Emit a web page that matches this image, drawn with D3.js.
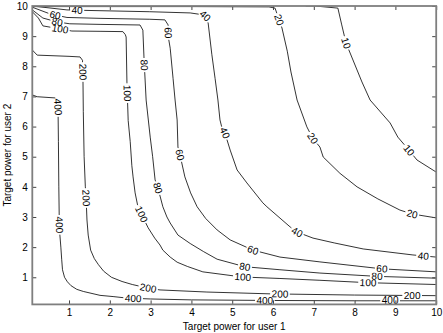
<!DOCTYPE html>
<html>
<head>
<meta charset="utf-8">
<script src="https://cdn.jsdelivr.net/npm/d3@7"></script>
<style>
  body { margin: 0; background: #fff; }
  text { font-family: "Liberation Sans", Arial, sans-serif; }
</style>
</head>
<body>
<div class="chart"></div>
<script>
// contour levels and their lines as [user1, user2] points
var levels = [10, 20, 40, 60, 80, 100, 200, 400];

var c400 = [[0.1,7.05],[0.22,6.99],[0.66,6.95],[0.71,6.9],[0.73,6.7],[0.74,5.5],[0.75,4.0],[0.76,3.0],[0.77,2.5],[0.80,2.0],[0.82,1.6],[0.84,1.25],[0.89,1.0],[0.96,0.85],[1.05,0.72],[1.19,0.60],[1.35,0.53],[1.76,0.40],[2.08,0.36],[2.42,0.31],[3.0,0.28],[4.0,0.25],[6.0,0.23],[8.0,0.22],[10,0.22]];
var c200 = [[0.1,8.54],[0.22,8.37],[1.0,8.33],[1.27,8.31],[1.33,8.2],[1.34,7.8],[1.35,6.5],[1.37,5.0],[1.40,4.0],[1.42,3.6],[1.44,2.9],[1.47,2.4],[1.53,1.9],[1.62,1.62],[1.72,1.42],[1.85,1.2],[2.04,1.0],[2.3,0.86],[2.55,0.76],[2.94,0.64],[3.23,0.58],[4.38,0.51],[5.93,0.45],[8.0,0.41],[10,0.39]];
var c100 = [[0.1,9.81],[0.25,9.6],[0.36,9.34],[0.78,9.24],[1.07,9.17],[1.76,9.16],[2.32,9.15],[2.38,9.05],[2.40,8.97],[2.42,7.45],[2.45,6.2],[2.50,5.5],[2.54,4.7],[2.57,4.33],[2.62,3.8],[2.68,3.4],[2.79,3.05],[2.94,2.64],[3.10,2.3],[3.23,2.07],[3.30,1.90],[3.48,1.67],[3.65,1.50],[3.9,1.36],[4.28,1.18],[5.24,1.01],[6.17,0.96],[7.15,0.90],[8.33,0.82],[10,0.76]];
var c80 = [[0.1,9.87],[0.36,9.60],[0.71,9.47],[1.02,9.41],[1.76,9.39],[2.74,9.37],[2.81,9.2],[2.84,8.21],[2.89,6.88],[2.99,5.65],[3.05,5.0],[3.11,4.23],[3.18,3.96],[3.30,3.34],[3.40,3.0],[3.48,2.8],[3.67,2.40],[3.97,2.12],[4.3,1.85],[4.63,1.60],[5.31,1.35],[6.17,1.25],[7.15,1.14],[8.55,1.03],[10,0.97]];
var c60 = [[0.1,9.96],[0.49,9.76],[0.66,9.70],[0.95,9.62],[1.76,9.59],[2.98,9.56],[3.35,9.54],[3.43,9.37],[3.43,9.0],[3.48,8.6],[3.55,7.6],[3.60,6.88],[3.65,6.22],[3.67,5.32],[3.72,5.06],[3.84,4.33],[3.98,3.8],[4.14,3.34],[4.35,2.95],[4.63,2.57],[4.95,2.24],[5.51,1.90],[6.17,1.67],[7.15,1.51],[8.67,1.28],[10,1.18]];
var c40 = [[0.1,10.0],[0.95,9.87],[1.2,9.86],[2.98,9.81],[3.97,9.77],[4.33,9.70],[4.41,9.44],[4.5,8.4],[4.58,7.6],[4.65,6.88],[4.70,6.22],[4.75,5.95],[4.82,5.79],[4.95,5.22],[5.12,4.56],[5.36,4.13],[5.75,3.47],[5.85,3.34],[6.42,2.67],[6.59,2.50],[6.98,2.30],[7.5,2.14],[8.21,1.94],[9.43,1.74],[10,1.67]];
var c20 = [[0.1,9.98],[4.0,9.98],[5.9,9.97],[6.05,9.93],[6.15,9.54],[6.22,9.27],[6.35,8.5],[6.44,7.81],[6.59,6.88],[6.83,5.99],[6.97,5.62],[7.15,5.32],[7.23,4.99],[7.64,4.45],[8.06,4.0],[8.57,3.6],[9.11,3.23],[9.41,3.10],[10,2.97]];
var c10 = [[6.8,10],[7.03,10],[7.59,9.93],[7.68,9.4],[7.79,8.77],[7.89,8.44],[8.18,7.48],[8.38,6.88],[8.87,6.12],[9.06,5.65],[9.28,5.3],[9.53,4.89],[10,4.49]];

// where the inline labels sit
var lab400 = [[0.71,6.65],[0.755,2.74],[2.57,0.25],[5.80,0.21],[8.87,0.18]];
var lab200 = [[1.34,7.81],[1.42,3.63],[2.94,0.64],[6.17,0.41],[9.41,0.38]];
var lab100 = [[0.78,9.24],[2.45,7.11],[2.79,3.10],[5.26,1.01],[8.33,0.81]];
var lab80 = [[0.71,9.47],[2.84,8.04],[3.18,3.96],[5.31,1.34],[8.55,1.01]];
var lab60 = [[0.66,9.70],[3.43,9.11],[3.72,5.06],[5.51,1.90],[8.67,1.28]];
var lab40 = [[1.2,9.87],[4.33,9.67],[4.82,5.79],[6.59,2.50],[9.68,1.67]];
var lab20 = [[6.15,9.54],[6.98,5.62],[9.41,3.10]];
var lab10 = [[7.79,8.77],[9.28,5.16]];

var contourLines = [c10, c20, c40, c60, c80, c100, c200, c400];
var contourLabels = [lab10, lab20, lab40, lab60, lab80, lab100, lab200, lab400];

var xTicks = [1, 2, 3, 4, 5, 6, 7, 8, 9, 10];
var yTicks = [1, 2, 3, 4, 5, 6, 7, 8, 9, 10];

var svgWidth = 443;
var svgHeight = 333;
var margin = {top: 6, right: 6.8, bottom: 28.6, left: 32.3};
var width = svgWidth - margin.left - margin.right;
var height = svgHeight - margin.top - margin.bottom;

var svg = d3.select(".chart")
  .append("svg")
  .attr("width", svgWidth)
  .attr("height", svgHeight)
  .style("display", "block");

var chartGroup = svg.append("g")
  .attr("transform", `translate(${margin.left}, ${margin.top})`);

var x = d3.scaleLinear().domain([0.1, 10]).range([0, width]);
var y = d3.scaleLinear().domain([0.1, 10]).range([height, 0]);

svg.append("defs").append("clipPath").attr("id", "plotclip")
  .append("rect").attr("width", width).attr("height", height);

var contourGroup = chartGroup.append("g").attr("clip-path", "url(#plotclip)");
var labelGroup = chartGroup.append("g");
var line = d3.line();

function drawContour(level, pts, labs) {
  var px = pts.map(d => [x(d[0]), y(d[1])]);
  var cum = [0];
  for (var i = 1; i < px.length; i++) {
    cum.push(cum[i - 1] + Math.hypot(px[i][0] - px[i - 1][0], px[i][1] - px[i - 1][1]));
  }
  var total = cum[cum.length - 1];

  function pointAt(s) {
    s = Math.max(0, Math.min(total, s));
    var k = 1;
    while (k < cum.length - 1 && cum[k] < s) k++;
    var seg = cum[k] - cum[k - 1];
    var t = seg ? (s - cum[k - 1]) / seg : 0;
    return [px[k - 1][0] + t * (px[k][0] - px[k - 1][0]), px[k - 1][1] + t * (px[k][1] - px[k - 1][1])];
  }

  var gaps = [];
  labs.forEach(function(l) {
    var lx = x(l[0]), ly = y(l[1]);
    var best = {d: Infinity};
    for (var i = 0; i < px.length - 1; i++) {
      var ax = px[i][0], ay = px[i][1];
      var dx = px[i + 1][0] - ax, dy = px[i + 1][1] - ay;
      var len2 = dx * dx + dy * dy;
      var t = len2 ? Math.max(0, Math.min(1, ((lx - ax) * dx + (ly - ay) * dy) / len2)) : 0;
      var qx = ax + t * dx, qy = ay + t * dy;
      var dd = Math.hypot(lx - qx, ly - qy);
      if (dd < best.d) best = {d: dd, s: cum[i] + t * Math.sqrt(len2)};
    }
    var p = pointAt(best.s);
    var p1 = pointAt(best.s - 7), p2 = pointAt(best.s + 7);
    var ang = Math.atan2(p2[1] - p1[1], p2[0] - p1[0]) * 180 / Math.PI;
    if (ang > 90) ang -= 180;
    if (ang <= -90) ang += 180;
    var txt = labelGroup.append("text")
      .attr("transform", `translate(${p[0]}, ${p[1]}) rotate(${ang})`)
      .attr("text-anchor", "middle")
      .attr("dy", "0.35em")
      .attr("font-size", "10px")
      .attr("fill", "#000")
      .text(level);
    var w = txt.node().getComputedTextLength();
    gaps.push([best.s - w / 2 - 1.5, best.s + w / 2 + 1.5]);
  });

  var stops = cum.slice();
  gaps.forEach(g => { stops.push(Math.max(0, g[0])); stops.push(Math.min(total, g[1])); });
  stops.sort((a, b) => a - b);
  var inGap = s => gaps.some(g => s > g[0] && s < g[1]);
  var pieces = [], cur = [];
  for (var k = 0; k < stops.length - 1; k++) {
    var a = stops[k], b = stops[k + 1];
    if (b - a < 1e-6) continue;
    if (inGap((a + b) / 2)) {
      if (cur.length > 1) pieces.push(cur);
      cur = [];
      continue;
    }
    if (!cur.length) cur.push(pointAt(a));
    cur.push(pointAt(b));
  }
  if (cur.length > 1) pieces.push(cur);

  pieces.forEach(function(piece) {
    contourGroup.append("path")
      .attr("d", line(piece))
      .attr("fill", "none")
      .attr("stroke", "#000")
      .attr("stroke-width", 0.8);
  });
}

levels.forEach(function(level, i) {
  drawContour(level, contourLines[i], contourLabels[i]);
});

// axes, MATLAB style: ticks pointing in on all four sides
var bottomAxis = d3.axisBottom(x).tickValues(xTicks).tickSizeInner(-4).tickSizeOuter(0).tickPadding(5);
var topAxis = d3.axisTop(x).tickValues(xTicks).tickSizeInner(-4).tickSizeOuter(0).tickFormat("");
var leftAxis = d3.axisLeft(y).tickValues(yTicks).tickSizeInner(-4).tickSizeOuter(0).tickPadding(4.5);
var rightAxis = d3.axisRight(y).tickValues(yTicks).tickSizeInner(-4).tickSizeOuter(0).tickFormat("");

function styleAxis(g) {
  g.select(".domain").remove();
  g.selectAll(".tick line").attr("stroke", "#444").attr("stroke-width", 1);
  g.selectAll(".tick text")
    .attr("font-family", "'Liberation Sans', Arial, sans-serif")
    .attr("font-size", "10px")
    .attr("fill", "#000");
}

chartGroup.append("g").attr("transform", `translate(0, ${height})`).call(bottomAxis).call(styleAxis);
chartGroup.append("g").call(topAxis).call(styleAxis);
chartGroup.append("g").call(leftAxis).call(styleAxis);
chartGroup.append("g").attr("transform", `translate(${width}, 0)`).call(rightAxis).call(styleAxis);

chartGroup.append("rect")
  .attr("width", width)
  .attr("height", height)
  .attr("fill", "none")
  .attr("stroke", "#7f7f7f")
  .attr("stroke-width", 1.8);

// axis titles
chartGroup.append("text")
  .attr("transform", `translate(${width / 2}, ${height + 26})`)
  .attr("text-anchor", "middle")
  .attr("font-size", "10px")
  .text("Target power for user 1");

chartGroup.append("text")
  .attr("transform", `translate(${-margin.left + 10.5}, ${height / 2}) rotate(-90)`)
  .attr("text-anchor", "middle")
  .attr("font-size", "10px")
  .text("Target power for user 2");
</script>
</body>
</html>
